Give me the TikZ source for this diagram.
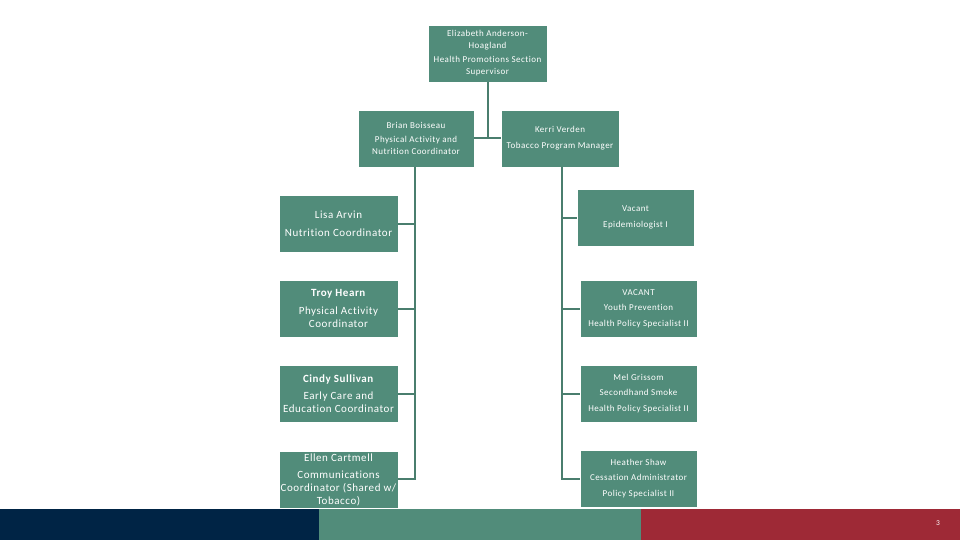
\documentclass[tikz,border=0pt]{standalone}
\usepackage{fontspec}
\setmainfont{Carlito}[LetterSpace=5,Ligatures={NoCommon}]
\definecolor{boxgreen}{HTML}{518C7A}
\definecolor{linegreen}{HTML}{4A7E6E}
\definecolor{navy}{HTML}{002445}
\definecolor{barred}{HTML}{9E2936}
\begin{document}
\begin{tikzpicture}[x=1pt,y=-1pt,
  box/.style={draw=white, line width=0.8pt, fill=boxgreen, text=white, align=center, inner sep=0pt},
  smallbox/.style={box, font=\fontsize{9}{12}\selectfont},
  leftbox/.style={box, minimum width=119pt, minimum height=57pt, font=\fontsize{11}{13.2}\selectfont},
  rightbox/.style={box, minimum width=117pt, minimum height=57pt, font=\fontsize{9}{15.5}\selectfont},
  conn/.style={draw=linegreen, line width=2pt}]
\useasboundingbox (0,0) rectangle (960,540);
\fill[white] (0,0) rectangle (960,540);
% bottom bands
\fill[navy] (0,509) rectangle (319,540);
\fill[boxgreen] (319,509) rectangle (641,540);
\fill[barred] (641,509) rectangle (960,540);
\node[text=white, font=\fontsize{7.5}{8}\selectfont] (pagenum) at (938,523) {3};
% boxes
\node[smallbox, minimum width=119pt, minimum height=57pt] (top) at (487.5,53.5)
  {Elizabeth Anderson-\\Hoagland\\[2pt]Health Promotions Section\\Supervisor};
\node[smallbox, minimum width=116pt, minimum height=57pt] (brian) at (416,138.5)
  {Brian Boisseau\\[2pt]Physical Activity and\\Nutrition Coordinator};
\node[smallbox, minimum width=118pt, minimum height=57pt, font=\fontsize{9}{16}\selectfont] (kerri) at (560,138.5)
  {Kerri Verden\\Tobacco Program Manager};
\node[leftbox, font=\fontsize{11}{18}\selectfont] (lisa) at (338.5,223.5) {Lisa Arvin\\Nutrition Coordinator};
\node[leftbox] (troy) at (338.5,308.5) {\textbf{Troy Hearn}\\[4pt]Physical Activity\\Coordinator};
\node[leftbox] (cindy) at (338.5,393.5) {\textbf{Cindy Sullivan}\\[4pt]Early Care and\\Education Coordinator};
\node[leftbox] (ellen) at (338.5,480) {Ellen Cartmell\\[4pt]Communications\\Coordinator (Shared w/\\Tobacco)};
\node[rightbox] (vacant) at (635.5,217.5) {Vacant\\Epidemiologist I};
\node[rightbox] (youth) at (638.5,308.5) {VACANT\\Youth Prevention\\Health Policy Specialist II};
\node[rightbox] (mel) at (638.5,393.5) {Mel Grissom\\Secondhand Smoke\\Health Policy Specialist II};
\node[rightbox] (heather) at (638.5,478.5) {Heather Shaw\\Cessation Administrator\\Policy Specialist II};
% connectors
\coordinate (tj) at (487.5,138.5);
\draw[conn] (top.south) -- (tj);
\draw[conn] (brian.east) -- (kerri.west);
\coordinate (lt) at (415,167);
\coordinate (lb) at (415,478.5);
\draw[conn] (lt) -- (lb);
\draw[conn] (lisa.east) -- (lisa.east -| lt);
\draw[conn] (troy.east) -- (troy.east -| lt);
\draw[conn] (cindy.east) -- (cindy.east -| lt);
\draw[conn] ([xshift=1pt]lb) -- (lb -| ellen.east);
\coordinate (rt) at (562,167);
\coordinate (rb) at (562,478.5);
\draw[conn] (rt) -- (rb);
\draw[conn] (vacant.west) -- (vacant.west -| rt);
\draw[conn] (youth.west) -- (youth.west -| rt);
\draw[conn] (mel.west) -- (mel.west -| rt);
\draw[conn] ([xshift=-1pt]rb) -- (heather.west);
\end{tikzpicture}
\end{document}
